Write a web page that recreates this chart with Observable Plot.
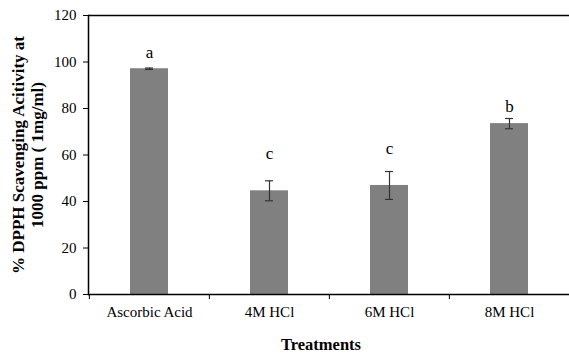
<!DOCTYPE html>
<html>
<head>
<meta charset="utf-8">
<script src="https://cdn.jsdelivr.net/npm/d3@7"></script>
<script src="https://cdn.jsdelivr.net/npm/@observablehq/plot@0.6"></script>
<style>
  html, body { margin: 0; padding: 0; background: #fff; overflow: hidden; }
</style>
</head>
<body>
<div id="chart"></div>
<script>
const categories = ["Ascorbic Acid", "4M HCl", "6M HCl", "8M HCl"];
const values = [97.1, 44.6, 46.9, 73.5];
const errors = [0.3, 4.3, 6.0, 2.2];
const letters = ["a", "c", "c", "b"];
const letterY = [104.2, 60.6, 62.7, 80.9];
const yTicks = [0, 20, 40, 60, 80, 100, 120];
const yTitle = "% DPPH Scavenging Acitivity at\n1000 ppm ( 1mg/ml)";
const xTitle = "Treatments";

const data = categories.map((c, i) => ({
  cat: c, v: values[i], lo: values[i] - errors[i], hi: values[i] + errors[i],
  letter: letters[i], ly: letterY[i]
}));

const W = 569, H = 356;
const mL = 88, mR = 0, mT = 15, mB = 62;
const step = (W - mL - mR) / categories.length;

const font = "'Liberation Serif', 'Times New Roman', serif";

const chart = Plot.plot({
  width: W, height: H,
  marginLeft: mL, marginRight: mR, marginTop: mT, marginBottom: mB,
  style: { fontFamily: font, fontSize: "15px", color: "#000", background: "#fff" },
  x: { domain: categories, paddingInner: 0.685, paddingOuter: 0.3425, label: null },
  y: { domain: [0, 120], label: null },
  marks: [
    Plot.barY(data, { x: "cat", y: "v", fill: "#808080" }),
    Plot.ruleX(data, { x: "cat", y1: "lo", y2: "hi", stroke: "#333", strokeWidth: 1.2 }),
    Plot.tickY(data, { x: "cat", y: "lo", stroke: "#333", strokeWidth: 1.2, inset: 15 }),
    Plot.tickY(data, { x: "cat", y: "hi", stroke: "#333", strokeWidth: 1.2, inset: 15 }),
    Plot.text(data, { x: "cat", y: "ly", text: "letter", fontSize: 17, lineAnchor: "middle", fill: "#000" }),
    Plot.ruleY([0, 120], { stroke: "#000", strokeWidth: 1.5 }),
    Plot.frame({ anchor: "left", stroke: "#000", strokeWidth: 1.5 }),
    Plot.ruleX(categories, { x: d => d, y1: 0, y2: -2.2, dx: -step / 2, stroke: "#000" }),
    Plot.axisY({ ticks: yTicks, tickSize: 5, tickPadding: 7, fontSize: 15, tickFormat: d => String(d) }),
    Plot.axisX({ tickSize: 0, tickPadding: 12, fontSize: 15 }),
    Plot.text([yTitle], { frameAnchor: "left", dx: -61, rotate: -90, fontSize: 17, fontWeight: "bold", lineAnchor: "middle", lineHeight: 1.12, textAnchor: "middle" }),
    Plot.text([xTitle], { frameAnchor: "bottom", dy: 50, dx: -8, fontSize: 16.5, fontWeight: "bold", lineAnchor: "middle" })
  ]
});
document.getElementById("chart").appendChild(chart);
</script>
</body>
</html>
